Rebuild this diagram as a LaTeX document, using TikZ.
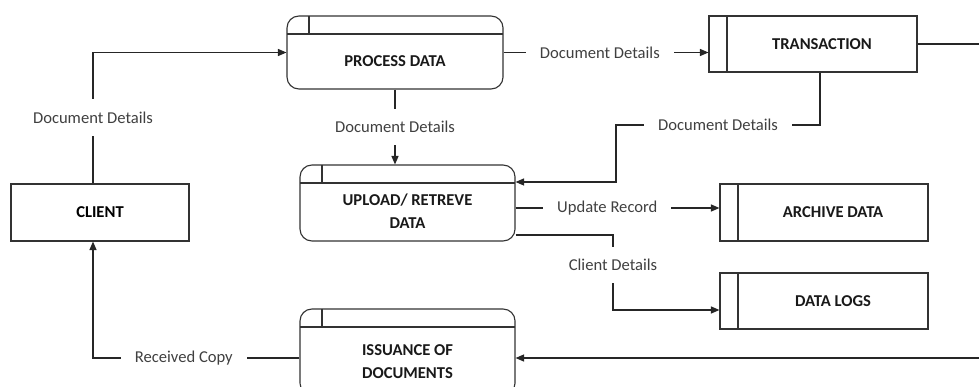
\documentclass[tikz,border=0pt]{standalone}
\usepackage{fontspec}
\setmainfont{Carlito}
\usetikzlibrary{arrows.meta, positioning}

\begin{document}
\begin{tikzpicture}[x=0.025cm, y=-0.025cm, >={Triangle[length=6pt, width=5pt]},
      font=\fontsize{11.8}{16.4}\selectfont,
      proc/.style={draw=black!80, line width=0.8pt, rounded corners=0.3cm,
                   minimum width=5.375cm, minimum height=1.9cm,
                   path picture={
                     \draw[black!80, line width=0.8pt]
                       ([yshift=-0.45cm]path picture bounding box.north west) --
                       ([yshift=-0.45cm]path picture bounding box.north east)
                       ([xshift=0.55cm]path picture bounding box.north west) --
                       ([xshift=0.55cm, yshift=-0.45cm]path picture bounding box.north west);}},
      store/.style={draw=black!80, line width=0.8pt, minimum width=5.2cm, minimum height=1.4cm,
                   path picture={
                     \draw[black!80, line width=0.8pt]
                       ([xshift=0.45cm]path picture bounding box.north west) --
                       ([xshift=0.45cm]path picture bounding box.south west);}},
      ent/.style={draw=black!80, line width=0.8pt, minimum width=4.45cm, minimum height=1.425cm,
                  font=\bfseries\fontsize{11.8}{16.4}\selectfont},
      ptxt/.style={font=\bfseries\fontsize{11.8}{16.4}\selectfont, align=center, text=black!90},
      flow/.style={->, draw=black!85, line width=0.8pt},
      lbl/.style={fill=white, inner xsep=10pt, inner ysep=9pt, text=black!75}]

    % ---- Frame ----
    \useasboundingbox (0,0) rectangle (979,387);
    \clip (0,0) rectangle (979,387);

    % ---- Processes ----
    \node[proc, minimum width=5.4cm, minimum height=1.825cm,
          label={[ptxt, yshift=-0.225cm]center:PROCESS DATA}] (process) at (395, 52.5) {};
    \node[proc, label={[ptxt, yshift=-0.2cm]center:{UPLOAD/ RETREVE\\DATA}}] (upload) at (407.5, 203) {};
    \node[proc, minimum height=2.15cm,
          label={[ptxt, yshift=-0.25cm]center:{ISSUANCE OF\\DOCUMENTS}}] (issue) at (407.5, 352) {};

    % ---- External entity ----
    \node[ent] (client) at (100, 212.5) {CLIENT};

    % ---- Data stores ----
    \node[store, label={[ptxt, xshift=0.225cm]center:TRANSACTION}] (trans) at (813, 44) {};
    \node[store, minimum height=1.425cm,
          label={[ptxt, xshift=0.225cm]center:ARCHIVE DATA}] (archive) at (824, 212.5) {};
    \node[store, label={[ptxt, xshift=0.225cm]center:DATA LOGS}] (logs) at (824, 301) {};

    % ---- Flows ----
    \draw[flow] ([xshift=-0.175cm]client.north) |- node[lbl, pos=0.25] {Document Details} (process.west);
    \draw[flow] (process.south) -- node[lbl] {Document Details} (process.south |- upload.north);
    \draw[flow] (process.east) -- node[lbl, pos=0.47] {Document Details} (process.east -| trans.west);

    % back from the transaction store
    \coordinate (tbend) at (616, 125);
    \draw[flow] ([xshift=0.175cm]trans.south) |- node[lbl, pos=0.75] {Document Details} (tbend)
                |- ([yshift=0.525cm]upload.east);

    % out of upload / retrieve
    \coordinate (uout) at ([yshift=-0.125cm]upload.east);
    \draw[flow] (uout) -- node[lbl, pos=0.45] {Update Record} (uout -| archive.west);
    \coordinate (cout) at ([yshift=-0.8cm]upload.east);
    \coordinate (cbend) at (613, 310);
    \draw[flow] (cout) -| node[lbl, pos=0.7] {Client Details} (cbend) -- (cbend -| logs.west);

    % round the right side to issuance, then back to the client
    \draw[flow] (trans.east) -- ++(2cm,0) |- ([yshift=-0.15cm]issue.east);
    \draw[flow] ([yshift=-0.15cm]issue.west) -| node[lbl, pos=0.28] {Received Copy}
                ([xshift=-0.175cm]client.south);

\end{tikzpicture}
\end{document}
